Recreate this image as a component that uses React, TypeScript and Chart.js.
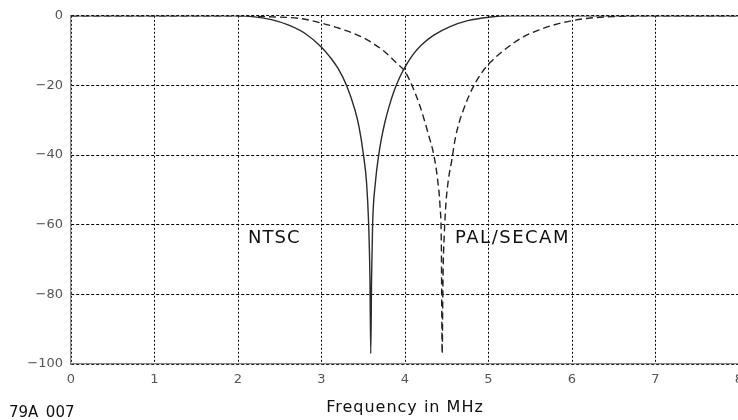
import React, { useEffect, useRef } from "react";
import { Chart, registerables } from "chart.js";

Chart.register(...registerables);

const ntscFreq = [0, 1, 2.0, 2.2, 2.4, 2.6, 2.8, 3.0, 3.1, 3.2, 3.3, 3.4, 3.45, 3.5, 3.54, 3.565, 3.58, 3.59, 3.6, 3.612, 3.645, 3.685, 3.72, 3.76, 3.81, 3.87, 3.94, 4.01, 4.1, 4.2, 4.35, 4.54, 4.75, 5.0, 5.25, 6, 7, 8];
const ntscDb = [0, 0, 0, -0.3, -1.1, -2.6, -5.0, -9.0, -11.8, -15.2, -20.0, -27.0, -32, -39.5, -48, -60, -75, -97, -75, -60, -48, -40, -35, -30.5, -26, -21.5, -17.5, -14.3, -11, -8.3, -5.5, -3.1, -1.4, -0.4, 0, 0, 0, 0];

const palFreq = [0, 1, 2.0, 2.4, 2.75, 3.0, 3.25, 3.5, 3.75, 3.9, 4.0, 4.08, 4.18, 4.28, 4.345, 4.39, 4.42, 4.435, 4.445, 4.455, 4.47, 4.49, 4.52, 4.56, 4.6, 4.65, 4.7, 4.76, 4.83, 4.92, 5.025, 5.2, 5.4, 5.6, 5.8, 6.0, 6.2, 6.5, 6.9, 8];
const palDb = [0, 0, 0, -0.3, -0.8, -2.1, -3.9, -6.3, -10.2, -13.6, -16.0, -19.8, -26.0, -34.0, -40, -47, -55, -65, -97, -75, -63, -54, -47, -41.5, -35.5, -30.5, -27, -23.3, -19.8, -16.3, -13.3, -9.6, -6.3, -4.1, -2.5, -1.4, -0.7, -0.2, 0, 0];

const xTicks = [0, 1, 2, 3, 4, 5, 6, 7, 8];
const yTicks = [0, -20, -40, -60, -80, -100];

const seriesLabels = ["NTSC", "PAL/SECAM"];
const xTitle = "Frequency in MHz";
const figureId = "79A_007";

const toPoints = (xs: number[], ys: number[]) => xs.map((x, i) => ({ x, y: ys[i] }));
const fmt = (v: number) => (v < 0 ? "\u2212" + Math.abs(v) : String(v));

export default function App() {
  const ref = useRef<HTMLCanvasElement | null>(null);

  useEffect(() => {
    if (!ref.current) return;
    const textPlugin = {
      id: "texts",
      afterDraw(chart: any) {
        const ctx = chart.ctx;
        const xs = chart.scales.x;
        const ys = chart.scales.y;
        ctx.save();
        ctx.fillStyle = "#111";
        ctx.textBaseline = "middle";
        ctx.textAlign = "left";
        ctx.font = "18px 'DejaVu Sans'";
        (ctx as any).letterSpacing = "1px";
        ctx.fillText(seriesLabels[0], xs.getPixelForValue(2.12), ys.getPixelForValue(-64));
        (ctx as any).letterSpacing = "1.5px";
        ctx.fillText(seriesLabels[1], xs.getPixelForValue(4.6), ys.getPixelForValue(-64));
        ctx.font = "16px 'DejaVu Sans'";
        (ctx as any).letterSpacing = "1px";
        ctx.textAlign = "center";
        ctx.fillText(xTitle, (chart.chartArea.left + chart.chartArea.right) / 2, 408);
        ctx.textAlign = "left";
        ctx.font = "15px 'DejaVu Sans'";
        (ctx as any).letterSpacing = "0px";
        ctx.fillText(figureId, 9, 413);
        ctx.restore();
      },
    };

    const chart = new Chart(ref.current, {
      type: "line",
      data: {
        datasets: [
          {
            label: seriesLabels[0],
            data: toPoints(ntscFreq, ntscDb),
            borderColor: "#2a2a2a",
            borderWidth: 1.4,
            pointRadius: 0,
            cubicInterpolationMode: "monotone",
            fill: false,
          },
          {
            label: seriesLabels[1],
            data: toPoints(palFreq, palDb),
            borderColor: "#222",
            borderWidth: 1.4,
            borderDash: [7, 4],
            pointRadius: 0,
            cubicInterpolationMode: "monotone",
            fill: false,
          },
        ],
      },
      options: {
        animation: false,
        responsive: false,
        devicePixelRatio: 1,
        layout: { padding: { left: 0, top: 12, right: 21, bottom: 0 } },
        plugins: { legend: { display: false }, tooltip: { enabled: false } },
        scales: {
          x: {
            type: "linear",
            min: 0,
            max: 8,
            afterBuildTicks: (s: any) => {
              s.ticks = xTicks.map((v) => ({ value: v }));
            },
            afterFit: (s: any) => {
              s.height = 56;
            },
            ticks: {
              color: "#555",
              font: { family: "'DejaVu Sans'", size: 13 },
              padding: 8,
              maxRotation: 0,
              callback: (v: any) => fmt(Number(v)),
            },
            grid: {
              color: "#000",
              lineWidth: 1,
              drawTicks: false,
            },
            border: { display: true, color: "#888", width: 1.2, dash: [2, 2] },
          },
          y: {
            type: "linear",
            min: -100,
            max: 0,
            afterBuildTicks: (s: any) => {
              s.ticks = yTicks.map((v) => ({ value: v }));
            },
            afterFit: (s: any) => {
              s.width = 71;
            },
            ticks: {
              color: "#555",
              font: { family: "'DejaVu Sans'", size: 13 },
              padding: 8,
              callback: (v: any) => fmt(Number(v)),
            },
            grid: {
              color: "#000",
              lineWidth: 1,
              drawTicks: false,
            },
            border: { display: true, color: "#888", width: 1.2, dash: [3, 2] },
          },
        },
      },
      plugins: [textPlugin],
    } as any);
    return () => chart.destroy();
  }, []);

  return (
    <div style={{ position: "absolute", left: 0, top: 0, width: 738, height: 420, overflow: "hidden", background: "#fff" }}>
      <canvas ref={ref} width={760} height={420} style={{ display: "block" }} />
    </div>
  );
}
